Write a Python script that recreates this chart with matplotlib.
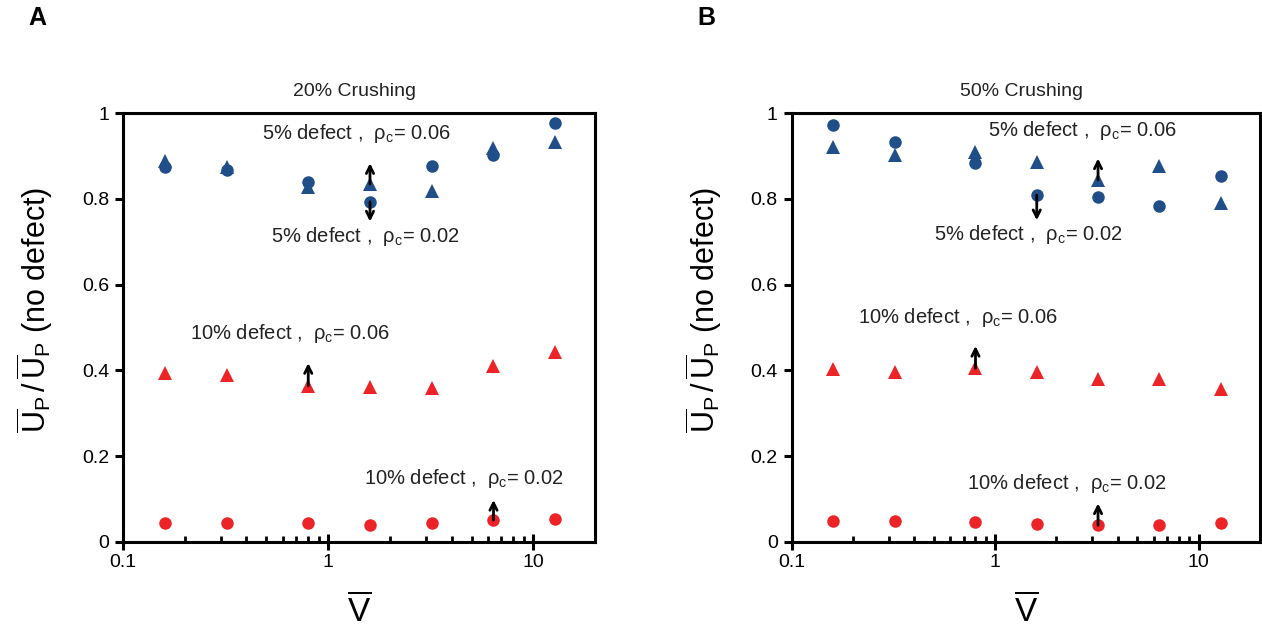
import matplotlib
matplotlib.use('Agg')
import matplotlib.pyplot as plt
from matplotlib.ticker import FixedLocator, FixedFormatter, LogLocator, NullFormatter

plt.rcParams['font.family'] = ['Liberation Sans', 'DejaVu Sans']
plt.rcParams['mathtext.fontset'] = 'custom'
plt.rcParams['mathtext.rm'] = 'Liberation Sans'
plt.rcParams['mathtext.it'] = 'Liberation Sans:italic'
plt.rcParams['mathtext.bf'] = 'Liberation Sans:bold'

# normalised velocity (log axis)
v_bar = [0.16, 0.32, 0.8, 1.6, 3.2, 6.4, 12.8]

# 20% crushing
c20_5pct_rho002 = [0.873, 0.867, 0.840, 0.793, 0.876, 0.902, 0.976]
c20_5pct_rho006 = [0.887, 0.874, 0.828, 0.834, 0.819, 0.918, 0.932]
c20_10pct_rho006 = [0.393, 0.389, 0.364, 0.362, 0.359, 0.411, 0.443]
c20_10pct_rho002 = [0.044, 0.044, 0.044, 0.040, 0.045, 0.051, 0.054]

# 50% crushing
c50_5pct_rho002 = [0.972, 0.933, 0.884, 0.809, 0.805, 0.784, 0.853]
c50_5pct_rho006 = [0.921, 0.902, 0.910, 0.886, 0.844, 0.876, 0.790]
c50_10pct_rho006 = [0.403, 0.397, 0.405, 0.396, 0.379, 0.381, 0.357]
c50_10pct_rho002 = [0.050, 0.048, 0.046, 0.041, 0.039, 0.039, 0.044]

blue = '#1F4E89'
red = '#EC2428'

panels = [
    {'letter': 'A', 'title': '20% Crushing',
     'series': [(c20_5pct_rho002, 'o', blue), (c20_5pct_rho006, '^', blue),
                (c20_10pct_rho006, '^', red), (c20_10pct_rho002, 'o', red)],
     # (label, text x, text y, series idx, point idx, arrow tip y)
     'notes': [('5%', '0.06', 1.38, 0.953, 1, 3, 0.883),
               ('5%', '0.02', 1.51, 0.712, 0, 3, 0.747),
               ('10%', '0.06', 0.65, 0.486, 2, 2, 0.417),
               ('10%', '0.02', 4.57, 0.148, 3, 5, 0.098)]},
    {'letter': 'B', 'title': '50% Crushing',
     'series': [(c50_5pct_rho002, 'o', blue), (c50_5pct_rho006, '^', blue),
                (c50_10pct_rho006, '^', red), (c50_10pct_rho002, 'o', red)],
     'notes': [('5%', '0.06', 2.67, 0.960, 1, 4, 0.894),
               ('5%', '0.02', 1.45, 0.716, 0, 3, 0.750),
               ('10%', '0.06', 0.657, 0.524, 2, 2, 0.457),
               ('10%', '0.02', 2.25, 0.137, 3, 4, 0.090)]},
]

fig = plt.figure(figsize=(12.62, 6.30), dpi=100)
lefts = [123 / 1262, 791.7 / 1262]
widths = [472 / 1262, 468.3 / 1262]

for p, x0, w in zip(panels, lefts, widths):
    ax = fig.add_axes([x0, 88 / 630, w, 429 / 630])
    for ys, m, col in p['series']:
        ax.plot(v_bar, ys, linestyle='none', marker=m, ms=9 if m == 'o' else 9.5,
                color=col, markeredgewidth=0, clip_on=False, zorder=3)

    for pct, rho, tx, ty, si, pi, tip in p['notes']:
        label = pct + r' defect ,  ρ$_\mathregular{c}$= ' + rho
        ax.text(tx, ty, label, ha='center', va='center', fontsize=14.5, color='#222222')
        y0 = p['series'][si][0][pi]
        ax.annotate('', xy=(v_bar[pi], tip), xytext=(v_bar[pi], y0),
                    arrowprops=dict(arrowstyle='->', lw=2, color='black',
                                    shrinkA=0, shrinkB=0, mutation_scale=13),
                    zorder=4)

    ax.set_xscale('log')
    ax.set_xlim(0.1, 20)
    ax.set_ylim(0, 1)
    ax.xaxis.set_major_locator(FixedLocator([0.1, 1, 10]))
    ax.xaxis.set_major_formatter(FixedFormatter(['0.1', '1', '10']))
    ax.xaxis.set_minor_locator(LogLocator(base=10, subs=range(2, 10)))
    ax.xaxis.set_minor_formatter(NullFormatter())
    ax.yaxis.set_major_locator(FixedLocator([0, 0.2, 0.4, 0.6, 0.8, 1.0]))
    ax.yaxis.set_major_formatter(FixedFormatter(['0', '0.2', '0.4', '0.6', '0.8', '1']))

    for s in ax.spines.values():
        s.set_linewidth(2.2)
    ax.tick_params(axis='x', which='major', direction='inout', length=11, width=2.2,
                   labelsize=14, pad=3)
    ax.tick_params(axis='x', which='minor', direction='in', length=4, width=2)
    ax.tick_params(axis='y', which='major', direction='out', length=6, width=2.2,
                   labelsize=14, pad=4)
    ax.tick_params(top=False, right=False, which='both')

    ax.text(0.49, 1.049, p['title'], transform=ax.transAxes, ha='center', va='center',
            fontsize=14, color='#222222')
    ax.text(0.5, -0.161, r'$\overline{\mathregular{V}}$', transform=ax.transAxes,
            ha='center', va='center', fontsize=24)

    fig.text(x0 - 88 / 1262, 1 - 310 / 630,
             r'$\overline{\mathregular{U}}_\mathregular{P}\,/\,\overline{\mathregular{U}}_\mathregular{P}$ (no defect)',
             rotation=90, ha='center', va='center', fontsize=22)
    fig.text(x0 - 85.5 / 1262, 1 - 18 / 630, p['letter'], ha='center', va='center',
             fontsize=18, fontweight='bold')

fig.savefig('out.png', dpi=100)
